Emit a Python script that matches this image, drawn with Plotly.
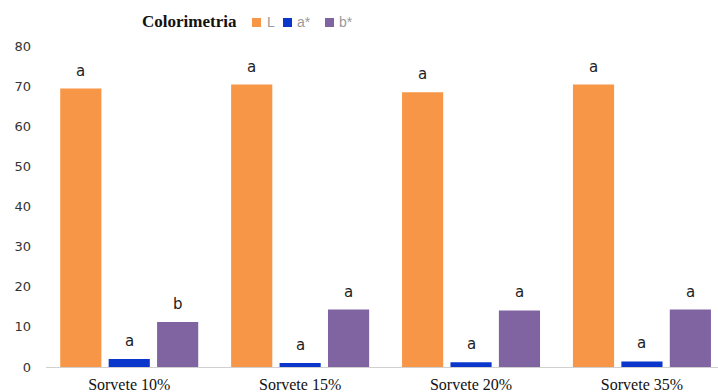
import plotly.graph_objects as go

# Sorvete samples and colorimetric readings (CIELAB)
categories = ["Sorvete 10%", "Sorvete 15%", "Sorvete 20%", "Sorvete 35%"]
L_values = [69.4, 70.4, 68.5, 70.4]
a_values = [2.0, 1.0, 1.2, 1.4]
b_values = [11.2, 14.3, 14.1, 14.3]

# Significance letters (Tukey) for each series
L_letters = ["a", "a", "a", "a"]
a_letters = ["a", "a", "a", "a"]
b_letters = ["b", "a", "a", "a"]

series_names = ["L", "a*", "b*"]
series_colors = ["#F79646", "#0A36CC", "#8064A2"]
series_values = [L_values, a_values, b_values]
series_letters = [L_letters, a_letters, b_letters]

# Figure geometry
W, H = 718, 392
ML, MR, MT, MB = 46, 0, 46, 25
X_RANGE = [-0.487, 3.445]
BARGAP, BARGROUPGAP = 0.15, 0.15
plot_w = W - ML - MR
plot_h = H - MT - MB
px_per_cat = plot_w / (X_RANGE[1] - X_RANGE[0])
slot_px = px_per_cat * (1 - BARGAP) / len(series_names)


def px_x(px):
    return (px - ML) / plot_w


def px_y(py):
    return (H - MB - py) / plot_h


fig = go.Figure()
annotations = []
for i, (name, vals, letters, color) in enumerate(
        zip(series_names, series_values, series_letters, series_colors)):
    fig.add_trace(go.Bar(
        x=categories, y=vals, name=name,
        marker=dict(color=color, line=dict(width=0)),
        showlegend=False,
    ))
    shift = (i - (len(series_names) - 1) / 2) * slot_px
    for cat, v, letter in zip(categories, vals, letters):
        annotations.append(dict(
            x=cat, y=v, xref="x", yref="y", text=letter, showarrow=False,
            xanchor="center", yanchor="bottom", xshift=shift, yshift=7,
            font=dict(family="DejaVu Sans, sans-serif", size=15, color="#222222"),
        ))

# Legend: title plus colour swatches drawn in paper space
legend_font = dict(family="Liberation Sans, Arial, sans-serif", size=14, color="#9A9A9A")
annotations.append(dict(
    x=px_x(189), y=px_y(21), xref="paper", yref="paper", text="<b>Colorimetria</b>",
    showarrow=False, xanchor="center", yanchor="middle",
    font=dict(family="Liberation Serif, Times New Roman, serif", size=17, color="#111111"),
))
shapes = []
legend_swatch_x = [252, 283, 325]
legend_text_x = [265, 295, 337]
for name, color, sx, tx in zip(series_names, series_colors, legend_swatch_x, legend_text_x):
    shapes.append(dict(
        type="rect", xref="paper", yref="paper",
        x0=px_x(sx), x1=px_x(sx + 9), y0=px_y(27), y1=px_y(18),
        fillcolor=color, line=dict(width=0),
    ))
    annotations.append(dict(
        x=px_x(tx), y=px_y(22), xref="paper", yref="paper", text=name,
        showarrow=False, xanchor="left", yanchor="middle", font=legend_font,
    ))

fig.update_layout(
    width=W, height=H,
    margin=dict(l=ML, r=MR, t=MT, b=MB),
    paper_bgcolor="white", plot_bgcolor="white",
    barmode="group", bargap=BARGAP, bargroupgap=BARGROUPGAP,
    showlegend=False,
    annotations=annotations,
    shapes=shapes,
    xaxis=dict(
        range=X_RANGE, showgrid=False, showline=True, linecolor="#D0D0D0", linewidth=1,
        ticks="", ticklabelstandoff=3,
        tickfont=dict(family="Liberation Serif, Times New Roman, serif", size=16, color="#111111"),
    ),
    yaxis=dict(
        range=[0, 80], dtick=10, showgrid=False, zeroline=False, showline=False,
        ticks="", ticklabelstandoff=14,
        tickfont=dict(family="DejaVu Sans, sans-serif", size=13, color="#333333"),
    ),
)

fig.write_html("out.html")
